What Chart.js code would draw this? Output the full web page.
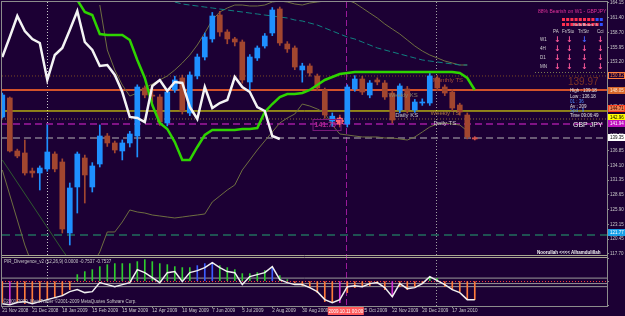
<!DOCTYPE html>
<html>
<head>
<meta charset="utf-8">
<script src="https://cdn.jsdelivr.net/npm/chart.js@4"></script>
<style>
html,body{margin:0;padding:0;background:#1c0034;}
canvas{display:block;background:#1c0034;}
</style>
</head>
<body>
<canvas id="chart" width="625" height="316"></canvas>
<script>
const FONT = "'Liberation Sans', Arial, sans-serif";

// weekly GBPJPY, bar 0 = 21 Nov 2008
const opens  = [143.05,146.57,136.76,136.39,133.05,132.69,133.43,136.20,134.72,121.58,
                130.10,135.46,130.10,134.35,139.53,138.24,136.76,138.24,139.53,148.42,
                147.10,146.75,141.94,148.05,150.27,143.79,150.64,154.15,157.49,161.93,
                158.78,157.49,156.93,149.53,153.97,156.19,158.60,163.04,156.56,155.82,
                151.75,152.49,150.64,148.05,142.30,142.50,141.75,148.23,150.08,147.12,
                149.90,149.34,147.49,144.34,148.23,144.34,145.64,145.64,150.27,148.60,
                147.67,145.27,143.42,139.20];
const highs  = [147.49,146.75,137.10,138.79,133.60,134.00,141.57,136.60,135.30,130.83,
                136.57,136.00,134.60,141.57,140.00,138.60,138.80,140.40,149.00,148.80,
                148.00,147.20,148.20,150.60,150.80,151.40,154.70,158.60,162.40,162.60,
                159.20,157.80,157.30,154.60,156.20,158.50,163.30,163.40,157.00,156.20,
                153.00,152.90,151.00,148.40,143.80,143.40,149.00,150.70,150.60,149.80,
                150.30,149.80,147.90,149.20,148.70,146.30,146.40,151.10,150.70,149.00,
                148.10,145.60,143.80,139.40];
const lows   = [142.86,136.57,135.50,132.30,131.90,129.54,133.00,132.90,121.58,119.36,
                125.28,127.13,129.17,133.80,137.60,136.40,135.10,137.50,135.65,146.60,
                145.80,141.50,141.40,147.60,143.60,143.30,150.10,153.60,156.90,158.00,
                156.60,156.20,149.30,148.05,153.50,155.80,158.10,156.30,155.00,151.80,
                149.50,150.60,147.90,142.80,141.30,141.20,141.20,147.80,147.20,146.60,
                149.00,146.30,141.90,143.80,143.80,143.90,145.20,145.20,147.90,147.00,
                144.20,143.40,139.00,138.80];
const closes = [147.12,136.76,135.83,132.69,132.69,133.61,136.57,133.43,122.32,129.91,
                136.20,132.32,133.98,139.53,138.24,136.94,138.24,139.90,148.60,147.12,
                146.90,142.12,147.67,149.90,144.16,150.82,154.15,157.86,161.74,158.78,
                157.49,156.93,149.90,154.15,155.82,158.04,162.85,156.75,155.64,152.30,
                152.49,151.19,148.42,143.42,143.20,141.90,148.60,150.08,147.67,149.34,
                149.53,146.75,142.49,148.79,144.34,145.82,145.82,150.64,148.42,147.49,
                144.71,143.97,139.35,138.98];

// white lagging line (from bar 0)
const lagging = [154.15,157.85,161.74,158.96,157.48,156.74,149.90,154.52,155.82,159.15,
                 162.66,156.93,155.45,152.49,152.67,150.82,147.67,143.05,142.86,142.12,
                 148.79,149.90,147.86,149.52,149.34,144.90,142.68,148.60,144.71,145.64,
                 146.19,150.45,148.60,147.67,144.90,144.16,139.53,138.98];
// green thick line (from bar 10)
const greenStart = 10;
const greenLine = [164.70,162.48,161.92,158.41,158.22,158.22,158.22,157.30,153.60,150.27,
                   145.27,141.94,140.83,138.42,135.09,135.09,137.50,139.72,140.64,140.64,
                   140.64,140.64,140.83,140.83,141.01,143.97,145.45,146.75,147.30,147.30,
                   147.49,148.05,148.97,149.90,150.45,151.01,151.19,151.38,151.38,151.38,
                   151.38,151.38,151.38,151.38,151.38,151.38,151.38,151.38,151.38,151.38,
                   151.38,151.19,150.27,148.05];
// thin olive envelope
const upperStart = 13;
const upperBand = [163.77,155.45,151.75,148.97,146.93,147.49,148.42,149.16,149.90,150.64,
                   151.75,153.04,154.52,156.37,158.59,161.00,162.48,163.22,163.77,163.77,
                   163.59,163.59,163.77,164.33,164.51,164.33,163.96,163.77,164.14,164.33,
                   164.51,164.70,164.70,164.70,164.14,163.22,162.29,161.37,160.26,159.33,
                   158.41,157.30,156.19,155.26,154.52,153.97,153.41,153.04,152.67,152.67];
const lowerBand = [133.24,128.61,123.99,119.36,115.66,114.73,113.81,112.88,111.96,111.96,
                   112.88,113.81,115.66,118.07,121.77,121.77,123.62,125.84,125.47,125.28,
                   124.91,124.73,124.54,124.36,124.54,124.73,124.91,125.10,127.32,128.43,
                   129.54,130.47,133.24,135.09,136.94,138.61,140.27,141.94,142.86,143.60,
                   145.45,145.08,144.53,143.79,141.57,139.90,139.72,139.53,139.35,139.35,
                   139.35,139.16,139.16,138.98,138.79,139.35,140.27,141.20,141.75,141.94,
                   141.75,141.57,140.46];
// teal dashed average (from bar 23)
const tealStart = 23;
const tealLine = [164.33,163.96,163.77,163.59,163.40,163.22,163.03,162.85,162.66,162.48,
                  162.29,162.11,161.92,161.74,161.55,161.37,161.00,160.81,160.44,160.07,
                  159.52,158.96,158.41,157.85,157.48,156.93,156.37,155.82,155.45,155.08,
                  154.71,154.34,153.97,153.60,153.41,153.23,153.04,152.86,152.67,152.67];
const darkLineBars = [0, 8, 9];
const darkLineVals = [135.09, 118.43, 116.50];
const fractalBars = [45];
const fractalVals = [142.30];

// horizontal levels
const levelPrices = [150.64, 148.05, 144.16, 142.68, 141.75, 139.16, 121.22];
const levelStyles = [
  {c:'#7a4a22', w:1, d:[1,2]}, {c:'#d2522a', w:2, d:[]}, {c:'#ffff00', w:1, d:[]},
  {c:'#8a6a3a', w:1, d:[1,2]}, {c:'#a01aa0', w:1.5, d:[7,4]}, {c:'#b4b4b4', w:1, d:[7,4]},
  {c:'#1f5252', w:2, d:[8,5]}
];
const axisBoxPrices = [150.82, 148.05, 144.71, 142.96, 141.94, 139.35, 121.77];
const axisBoxStyles = [
  {f:'#1c0034', b:'#ff8040', t:'#ff8040'}, {f:'#d8682c', b:'#d8682c', t:'#ffe8d0'},
  {f:'#f08050', b:'#ff4020', t:'#3a0000'}, {f:'#ffff00', b:'#ffff00', t:'#000000'},
  {f:'#c010c0', b:'#c010c0', t:'#ffffff'}, {f:'#ffffff', b:'#ffffff', t:'#000000'},
  {f:'#18a0e8', b:'#18a0e8', t:'#ffffff'}
];
const vLineBars = [5.95, 45.8, 57.8];
const vLineStyles = [{c:'#c8c8c8', d:[1,2]}, {c:'#9a1a9a', d:[6,3]}, {c:'#a0a0a0', d:[1,2]}];

const noteBars   = [57.4, 51.5, 52.4, 57.1, 57.5];
const notePrices = [149.90, 147.12, 143.42, 143.79, 141.94];
const noteTexts  = ['Monthly TS', 'Weekly KS', 'Daily KS', 'Weekly TS', 'Daily TS'];
const noteColors = ['#a84a36', '#8c8064', '#c8c8c8', '#a87444', '#c8c8c8'];

// oscillator panel
const oscHist = [-4.99,-5.46,-4.99,-5.23,-4.99,-4.76,-4.30,-3.83,-3.37,-1.97,
                 1.51,2.21,2.67,3.37,3.83,4.07,4.07,4.07,4.53,4.99,
                 4.53,4.07,3.83,3.37,3.14,3.14,3.60,4.07,4.30,3.60,
                 3.14,2.67,1.74,1.74,1.97,2.44,3.14,1.28,0.35,-0.35,
                 -1.05,-1.51,-2.67,-4.76,-4.99,-4.99,-2.67,-1.51,-1.05,-1.05,
                 -0.58,-1.97,-3.60,-1.28,-1.97,-1.28,-0.35,1.05,0.58,-1.28,
                 -1.97,-2.44,-4.30,-4.30];
const oscLine = [-5.23,-5.46,-4.99,-4.76,-5.23,-4.76,-4.30,-3.83,-3.37,-2.44,
                 -1.97,-2.67,-2.44,-0.35,-0.81,-1.28,-0.81,-0.35,2.67,1.97,
                 0.81,-0.35,1.97,2.21,-0.12,1.97,2.44,3.14,4.30,3.14,
                 2.21,1.97,-0.81,1.05,1.51,1.97,3.37,0.35,-0.35,-0.81,
                 -0.81,-1.51,-2.44,-4.30,-4.99,-4.30,-1.28,-1.05,-1.28,-0.58,
                 -0.35,-1.51,-3.60,-0.58,-1.74,-1.51,-0.58,1.05,0.12,-0.81,
                 -1.97,-2.67,-4.30,-4.30];
const blueHistBars = [26, 27, 28, 36];
const magentaHistBars = [1, 45, 52];
const oscBandLevels = [0.70, -0.58, -1.28];
const oscZeroDots = -0.10;

const tickBars = [0,4,8,12,16,20,24,28,32,36,40,44,48,52,56,60];
const dateLabels = ['21 Nov 2008','21 Dec 2008','18 Jan 2009','15 Feb 2009','15 Mar 2009','12 Apr 2009',
                    '10 May 2009','7 Jun 2009','5 Jul 2009','2 Aug 2009','30 Aug 2009','27 Sep 2009',
                    '25 Oct 2009','22 Nov 2009','20 Dec 2009','17 Jan 2010'];
const priceTicks = [164.15,161.40,158.70,155.95,153.20,150.50,147.75,145.00,142.30,
                    139.55,136.85,134.10,131.35,128.65,125.90,123.15,120.45,117.70];
const oscTicks = [5.3706, 0, -5.5494];

const X_MIN = -0.04, X_MAX = 80.63;
const mainClip = {left: 0, top: 0, right: 0, bottom: -50};
const oscClip = {left: 0, top: -255, right: 0, bottom: 0};

Chart.defaults.font.family = FONT;

const pts = (vals, start = 0) => vals.map((v, i) => ({x: start + i, y: v}));
const candleColor = i => i === opens.length - 1 ? '#d2504a' : (closes[i] >= opens[i] ? '#1e90ff' : '#a2462f');

function lineSet(data, color, width, dash, order, axis, clip) {
  return {type: 'line', data, borderColor: color, borderWidth: width, borderDash: dash,
          pointRadius: 0, fill: false, tension: 0, order, yAxisID: axis, clip};
}

const datasets = [];
levelPrices.forEach((p, i) => {
  const s = levelStyles[i];
  datasets.push(lineSet([{x: X_MIN, y: p}, {x: X_MAX, y: p}], s.c, s.w, s.d, 20, 'y', mainClip));
});
datasets.push(lineSet(pts(upperBand, upperStart), '#6e6e40', 1, [], 15, 'y', mainClip));
datasets.push(lineSet(pts(lowerBand), '#6e6e40', 1, [], 15, 'y', mainClip));
datasets.push(lineSet(darkLineBars.map((b, i) => ({x: b, y: darkLineVals[i]})), '#2f5a2f', 1, [], 15, 'y', mainClip));
datasets.push(lineSet(pts(tealLine, tealStart), '#108080', 1, [6, 3], 14, 'y', mainClip));
datasets.push({type: 'bar', data: lows.map((l, i) => ({x: i, y: [l, highs[i]]})),
  backgroundColor: lows.map((l, i) => candleColor(i)), barThickness: 1, grouped: false,
  order: 6, yAxisID: 'y', clip: mainClip});
datasets.push({type: 'bar', data: opens.map((o, i) => ({x: i, y: [o, closes[i]]})),
  backgroundColor: opens.map((o, i) => candleColor(i)), barThickness: 5, minBarLength: 1,
  grouped: false, order: 5, yAxisID: 'y', clip: mainClip});
datasets.push(lineSet(pts(greenLine, greenStart), '#2ed400', 2.5, [], 3, 'y', mainClip));
datasets.push(lineSet(pts(lagging), '#f4f4f4', 2.5, [], 2, 'y', mainClip));
datasets.push({type: 'line', data: fractalBars.map((b, i) => ({x: b, y: fractalVals[i]})),
  showLine: false, pointStyle: 'star', pointRadius: 4, borderColor: '#ff6070', borderWidth: 2,
  order: 1, yAxisID: 'y', clip: mainClip});

oscBandLevels.forEach(v => datasets.push(lineSet([{x: X_MIN, y: v}, {x: X_MAX, y: v}], '#9a9a9a', 1, [], 20, 'y2', oscClip)));
datasets.push(lineSet([{x: X_MIN, y: oscZeroDots}, {x: X_MAX, y: oscZeroDots}], '#ff4040', 1, [1, 2], 19, 'y2', oscClip));
datasets.push({type: 'bar', data: pts(oscHist),
  backgroundColor: oscHist.map((v, i) => v >= 0
    ? (blueHistBars.includes(i) ? '#3a5cff' : '#2ecc2e')
    : (magentaHistBars.includes(i) ? '#d030d0' : '#ff7a3a')),
  barThickness: 1, grouped: false, order: 6, yAxisID: 'y2', clip: oscClip});
datasets.push(lineSet(pts(oscLine), '#f0f0f0', 1.5, [], 2, 'y2', oscClip));

const mt4 = {
  id: 'mt4',
  beforeDatasetsDraw(chart) {
    const {ctx, chartArea: a, scales: {x}} = chart;
    ctx.save();
    ctx.lineWidth = 1;
    vLineBars.forEach((b, i) => {
      const px = Math.round(x.getPixelForValue(b)) + 0.5;
      ctx.strokeStyle = vLineStyles[i].c;
      ctx.setLineDash(vLineStyles[i].d);
      ctx.beginPath(); ctx.moveTo(px, a.top); ctx.lineTo(px, a.bottom); ctx.stroke();
    });
    ctx.restore();
  },
  afterDatasetsDraw(chart) {
    const {ctx, chartArea: a, scales: {x, y, y2}} = chart;
    ctx.save();
    const sep = Math.round(y2.getPixelForValue(oscTicks[0]));
    ctx.strokeStyle = '#a8a890'; ctx.lineWidth = 1;
    [sep - 2.5, sep - 0.5].forEach(yy => {
      ctx.beginPath(); ctx.moveTo(a.left, yy); ctx.lineTo(a.right, yy); ctx.stroke();
    });
    ctx.textBaseline = 'middle'; ctx.textAlign = 'left';
    ctx.font = `6px ${FONT}`;
    noteTexts.forEach((t, i) => {
      ctx.fillStyle = noteColors[i];
      ctx.fillText(t, x.getPixelForValue(noteBars[i]), y.getPixelForValue(notePrices[i]));
    });
    // boxed price tag on chart
    const tx = x.getPixelForValue(41.5), ty = y.getPixelForValue(141.57);
    ctx.font = `bold 7px ${FONT}`;
    ctx.fillStyle = '#b02890';
    ctx.fillText('141.75', tx + 1, ty);
    ctx.strokeStyle = '#7a1a7a';
    ctx.strokeRect(tx - 0.5, ty - 5.5, 28, 11);
    // oscillator labels
    ctx.font = `4.5px ${FONT}`;
    ctx.fillStyle = '#c8c8c8';
    ctx.fillText('PIR_Divergence_v2 (12,26,9) 0.0000 -0.7537 -0.7537', a.left + 2, sep + 4);
    ctx.fillText('\u00a92001-2009, MetaTrader \u00a92001-2009 MetaQuotes Software Corp.', a.left + 1, a.bottom - 4);
    ctx.fillStyle = '#f0f0f0';
    ctx.font = `bold 4.5px ${FONT}`;
    ctx.fillText('Noorullah <<<< Alhamdulillah', 537, sep - 5);
    ctx.restore();
  },
  afterDraw(chart) {
    const {ctx, chartArea: a, scales: {x, y}} = chart;
    ctx.save();
    ctx.strokeStyle = '#8c8c8c'; ctx.lineWidth = 1;
    ctx.strokeRect(a.left - 0.5, a.top - 0.5, a.right - a.left + 1, a.bottom - a.top + 1);
    ctx.textBaseline = 'middle'; ctx.textAlign = 'left';
    // right axis price tags
    ctx.font = `4.5px ${FONT}`;
    axisBoxPrices.forEach((p, i) => {
      const s = axisBoxStyles[i];
      const py = Math.round(y.getPixelForValue(p));
      ctx.fillStyle = s.f; ctx.fillRect(a.right + 1, py - 3, 17, 7);
      ctx.strokeStyle = s.b; ctx.strokeRect(a.right + 1.5, py - 2.5, 16, 6);
      ctx.fillStyle = s.t; ctx.fillText(p.toFixed(2), a.right + 3, py + 0.5);
    });
    // date tag of vertical line
    const cx = x.getPixelForValue(vLineBars[1]);
    ctx.fillStyle = '#ff5a5a'; ctx.fillRect(cx - 18, a.bottom + 1, 36, 8);
    ctx.fillStyle = '#ffffff'; ctx.textAlign = 'center';
    ctx.fillText('2009.10.11 00:00', cx, a.bottom + 5.5);
    // top-right dashboard
    ctx.textAlign = 'left';
    ctx.font = `5px ${FONT}`;
    ctx.fillStyle = '#e0309a';
    ctx.fillText('88% Bearish on W1 - GBPJPY', 538, 12);
    for (let r = 0; r < 2; r++) {
      for (let i = 0; i < 10; i++) {
        ctx.fillStyle = i >= 8 + r ? '#3050ff' : '#ff3050';
        ctx.fillRect(562 + i * 4.2, 18 + r * 5, 3, 3);
      }
    }
    ctx.font = `4px ${FONT}`;
    ctx.fillStyle = '#e0e0e0';
    ctx.fillText('Bulls/Bears %', 573, 25);
    ctx.font = `4.5px ${FONT}`;
    ctx.fillStyle = '#d0d0d0';
    [['PA', 553], ['Fr/Sto', 562], ['Tr/Str', 578], ['Cci', 597]].forEach(([t, px]) => ctx.fillText(t, px, 32));
    const rows = ['W1', '4H', 'D1', 'MN'];
    const cols = [556, 568, 583, 599];
    rows.forEach((t, r) => {
      const py = 40 + r * 9;
      ctx.font = `4.5px ${FONT}`; ctx.fillStyle = '#d0d0d0';
      ctx.fillText(t, 540, py);
      ctx.font = `bold 8px 'DejaVu Sans', sans-serif`;
      cols.forEach((px, c) => {
        ctx.fillStyle = (r === 0 && c === 2) ? '#4060ff' : '#ff5a9a';
        ctx.fillText('\u2193', px - 2, py);
      });
    });
    ctx.strokeStyle = '#7a7a50'; ctx.setLineDash([1, 2]);
    ctx.beginPath(); ctx.moveTo(535, 72.5); ctx.lineTo(a.right, 72.5); ctx.stroke();
    ctx.setLineDash([]);
    ctx.font = `10px ${FONT}`;
    ctx.fillStyle = '#7c3324';
    ctx.fillText('139.97', 568, 82);
    ctx.font = `4.5px ${FONT}`;
    const stats = [['High : 139.18', 91, '#e0e0e0'], ['Low : 136.18', 97, '#e0e0e0'],
                   ['01 : 36', 102, '#4a8cff'], ['Av : 209', 107, '#e0e0e0'],
                   ['Spd : 9', 111, '#4a8cff'], ['Time 09:06:49', 116, '#e0e0e0']];
    stats.forEach(([t, py, c]) => { ctx.fillStyle = c; ctx.fillText(t, 570, py); });
    ctx.font = `7px ${FONT}`;
    ctx.fillStyle = '#f0f0f0';
    ctx.fillText('GBP JPY', 573, 125);
    ctx.restore();
  }
};

const noPadY = s => { s.paddingTop = 0; s.paddingBottom = 0; };

new Chart(document.getElementById('chart'), {
  type: 'bar',
  data: {datasets},
  plugins: [mt4],
  options: {
    responsive: false,
    animation: false,
    devicePixelRatio: 1,
    layout: {autoPadding: false, padding: {left: 2, top: 2, right: 0, bottom: 0}},
    plugins: {legend: {display: false}, tooltip: {enabled: false}},
    scales: {
      x: {
        type: 'linear', min: X_MIN, max: X_MAX, position: 'bottom', offset: false,
        afterBuildTicks: s => { s.ticks = tickBars.map(v => ({value: v})); },
        afterFit: s => { s.height = 10; s.paddingLeft = 0; s.paddingRight = 0; },
        grid: {display: true, drawOnChartArea: false, offset: false, tickLength: 2, color: '#8c8c8c'},
        border: {color: '#8c8c8c'},
        ticks: {autoSkip: false, maxRotation: 0, align: 'start', padding: 0, color: '#c8c8c8',
                font: {size: 4.6}, callback: (v, i) => dateLabels[i]}
      },
      y: {
        type: 'linear', position: 'right', min: 108.07, max: 164.33, weight: 1,
        afterBuildTicks: s => { s.ticks = priceTicks.map(v => ({value: v})); },
        afterFit: s => { s.width = 18; noPadY(s); },
        grid: {display: true, drawOnChartArea: false, tickLength: 2, color: '#8c8c8c'},
        border: {color: '#8c8c8c'},
        ticks: {padding: 1, color: '#c8c8c8', font: {size: 4.5}, callback: v => v.toFixed(2)}
      },
      y2: {
        type: 'linear', position: 'right', min: -5.78, max: 64.85, weight: 0,
        afterBuildTicks: s => { s.ticks = oscTicks.map(v => ({value: v})); },
        afterFit: s => { s.width = 0; noPadY(s); },
        grid: {display: true, drawOnChartArea: false, tickLength: 2, color: '#8c8c8c'},
        border: {display: false},
        ticks: {padding: 1, color: '#c8c8c8', font: {size: 4.5},
                callback: v => v === 0 ? '0.00' : String(v)}
      }
    }
  }
});
</script>
</body>
</html>
